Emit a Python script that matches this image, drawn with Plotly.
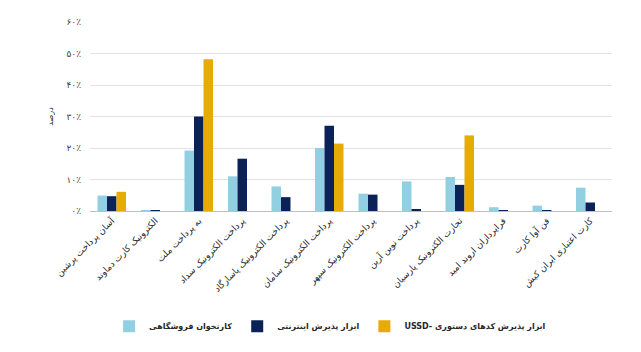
import plotly.graph_objects as go

categories = [
    "آسان پرداخت پرشین",
    "الکترونیک کارت دماوند",
    "به پرداخت ملت",
    "پرداخت الکترونیک سداد",
    "پرداخت الکترونیک پاسارگاد",
    "پرداخت الکترونیک سامان",
    "پرداخت الکترونیک سپهر",
    "پرداخت نوین آرین",
    "تجارت الکترونیک پارسیان",
    "فراپردازان اروند امید",
    "فن آوا کارت",
    "کارت اعتباری ایران کیش",
]
pos_values = [4.9, 0.2, 19.2, 11.0, 7.8, 20.0, 5.5, 9.4, 10.8, 1.2, 1.7, 7.4]
internet_values = [4.7, 0.1, 30.0, 16.6, 4.4, 27.1, 5.2, 0.6, 8.3, 0.3, 0.1, 2.7]
ussd_values = [6.1, 0.0, 48.2, 0.0, 0.0, 21.4, 0.0, 0.0, 24.0, 0.0, 0.0, 0.0]

series_names = [
    "کارتخوان فروشگاهی",
    "ابزار پذیرش اینترنتی",
    "USSD- ابزار پذیرش کدهای دستوری",
]
colors = ["#92CFE2", "#0B2258", "#E6AC05"]

tick_vals = [0, 10, 20, 30, 40, 50, 60]
tick_text = ["۰٪", "۱۰٪", "۲۰٪", "۳۰٪", "۴۰٪", "۵۰٪", "۶۰٪"]

font_family = "DejaVu Sans"

fig = go.Figure()
for name, vals, col in zip(series_names, [pos_values, internet_values, ussd_values], colors):
    fig.add_trace(go.Bar(x=categories, y=vals, name=name, marker_color=col,
                         marker_line_width=0))

fig.update_layout(
    width=641, height=352,
    margin=dict(l=90, r=29, t=22, b=141),
    paper_bgcolor="white", plot_bgcolor="white",
    barmode="group", bargap=0.345, bargroupgap=0,
    font=dict(family=font_family, size=9, color="#404040"),
    showlegend=True,
    legend=dict(orientation="h", x=0.46, xanchor="center", y=-0.61, yanchor="middle",
                font=dict(size=8, color="#262626", family=font_family, weight="bold"),
                itemwidth=30, traceorder="normal", tracegroupgap=0),
)
fig.update_xaxes(
    tickangle=-45, showgrid=False, showline=True, linecolor="#BFBFBF", linewidth=1,
    ticks="", automargin=False,
    tickfont=dict(size=9, color="#262626", family=font_family),
)
fig.update_yaxes(
    range=[0, 60], tickvals=tick_vals, ticktext=tick_text,
    showgrid=True, gridcolor="#E3E3E3", gridwidth=1, zeroline=False, showline=False,
    ticks="", ticklabelstandoff=8, automargin=False,
    tickfont=dict(size=9, color="#404040", family=font_family),
    title=dict(text="درصد", font=dict(size=8, color="#262626", family=font_family), standoff=11),
)

fig.write_html("out.html")
